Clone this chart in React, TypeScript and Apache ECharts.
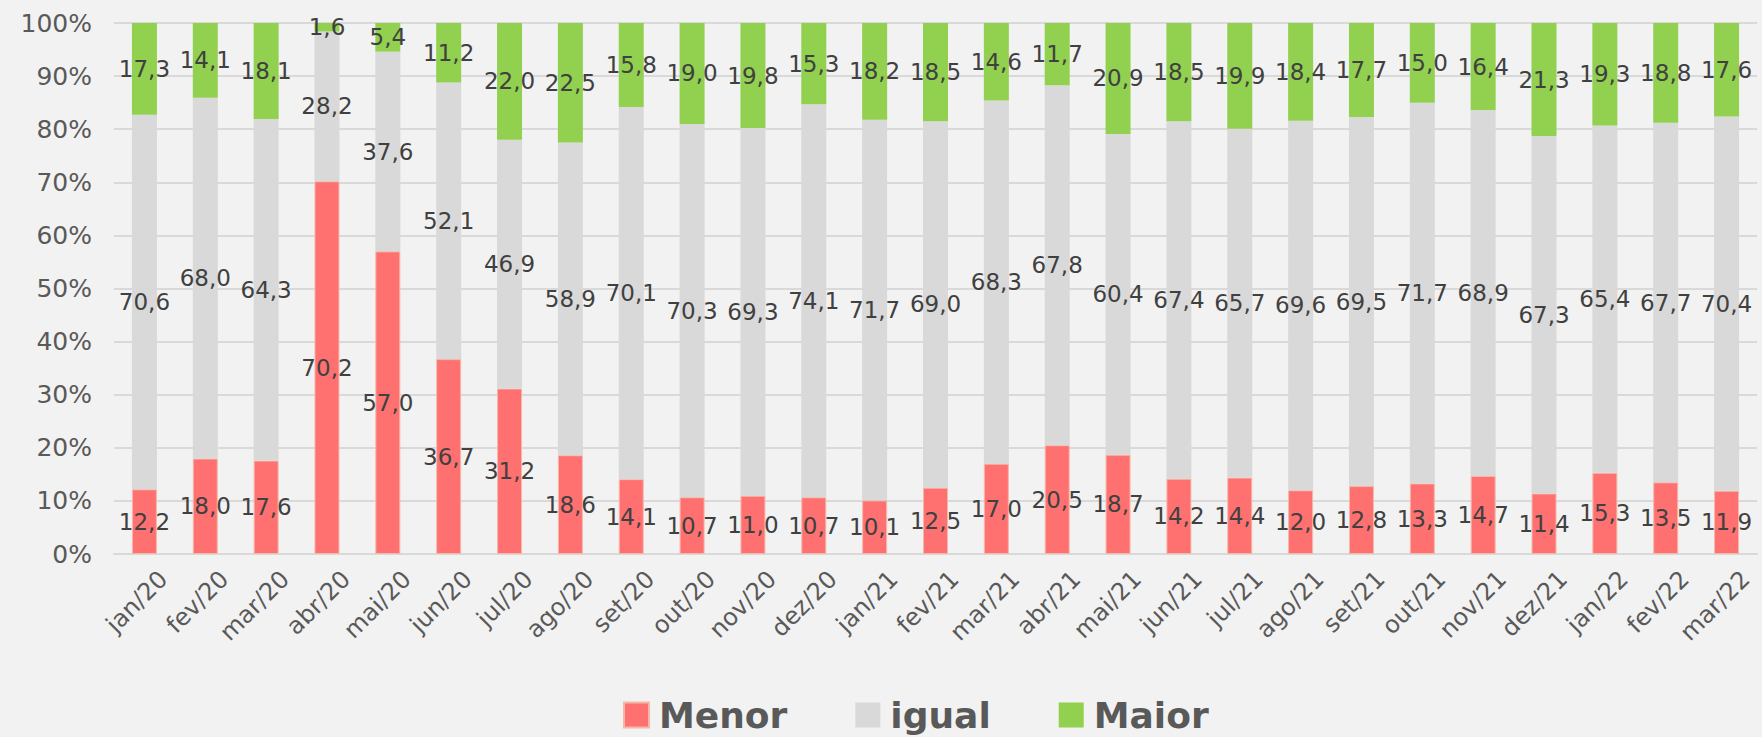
import React, { useEffect, useRef } from "react";
import * as echarts from "echarts";

const categories = [
  "jan/20", "fev/20", "mar/20", "abr/20", "mai/20", "jun/20", "jul/20", "ago/20", "set/20",
  "out/20", "nov/20", "dez/20", "jan/21", "fev/21", "mar/21", "abr/21", "mai/21", "jun/21",
  "jul/21", "ago/21", "set/21", "out/21", "nov/21", "dez/21", "jan/22", "fev/22", "mar/22",
];

const menor = [12.2, 18.0, 17.6, 70.2, 57.0, 36.7, 31.2, 18.6, 14.1, 10.7, 11.0, 10.7, 10.1, 12.5, 17.0, 20.5, 18.7, 14.2, 14.4, 12.0, 12.8, 13.3, 14.7, 11.4, 15.3, 13.5, 11.9];
const igual = [70.6, 68.0, 64.3, 28.2, 37.6, 52.1, 46.9, 58.9, 70.1, 70.3, 69.3, 74.1, 71.7, 69.0, 68.3, 67.8, 60.4, 67.4, 65.7, 69.6, 69.5, 71.7, 68.9, 67.3, 65.4, 67.7, 70.4];
const maior = [17.3, 14.1, 18.1, 1.6, 5.4, 11.2, 22.0, 22.5, 15.8, 19.0, 19.8, 15.3, 18.2, 18.5, 14.6, 11.7, 20.9, 18.5, 19.9, 18.4, 17.7, 15.0, 16.4, 21.3, 19.3, 18.8, 17.6];

const yTicks = [0, 10, 20, 30, 40, 50, 60, 70, 80, 90, 100];

const FONT = "'DejaVu Sans', sans-serif";

export default function App() {
  const ref = useRef<HTMLDivElement>(null);

  useEffect(() => {
    if (!ref.current) return;
    const chart = echarts.init(ref.current, null, { renderer: "svg" });

    const totals = categories.map((_, i) => menor[i] + igual[i] + maior[i]);
    const build = (arr: number[]) =>
      arr.map((v, i) => ({ value: (v / totals[i]) * 100, raw: v }));

    const labelCfg = {
      show: true,
      position: "inside",
      color: "#404040",
      fontSize: 23,
      fontFamily: FONT,
      formatter: (p: any) => p.data.raw.toFixed(1).replace(".", ","),
    };

    chart.setOption({
      animation: false,
      backgroundColor: "#F2F2F2",
      textStyle: { fontFamily: FONT },
      grid: { left: 114, right: 5, top: 23, bottom: 183, containLabel: false },
      legend: {
        left: 618,
        top: 692,
        itemWidth: 25,
        itemHeight: 25,
        itemGap: 68,
        icon: "rect",
        textStyle: { fontSize: 36, fontWeight: "bold", color: "#595959", fontFamily: FONT, padding: [0, 0, 0, 5] },
        data: ["Menor", "igual", "Maior"],
      },
      xAxis: {
        type: "category",
        data: categories,
        axisTick: { show: false },
        axisLine: { lineStyle: { color: "#D9D9D9", width: 2 } },
        axisLabel: {
          rotate: 45,
          margin: 2,
          fontSize: 24,
          color: "#595959",
          fontFamily: FONT,
          verticalAlign: "top",
          padding: [15, 0, 0, 0],
        },
      },
      yAxis: {
        type: "value",
        min: yTicks[0],
        max: yTicks[yTicks.length - 1],
        interval: yTicks[1] - yTicks[0],
        axisLine: { show: false },
        axisTick: { show: false },
        splitLine: { lineStyle: { color: "#D9D9D9", width: 2 } },
        axisLabel: {
          formatter: "{value}%",
          fontSize: 25,
          color: "#595959",
          margin: 22,
          fontFamily: FONT,
        },
      },
      series: [
        {
          name: "Menor",
          type: "bar",
          stack: "total",
          barWidth: 25,
          itemStyle: { color: "#FF7171", borderColor: "#F4B8A8", borderWidth: 1 },
          label: labelCfg,
          data: build(menor),
        },
        {
          name: "igual",
          type: "bar",
          stack: "total",
          barWidth: 25,
          itemStyle: { color: "#D9D9D9" },
          label: labelCfg,
          data: build(igual),
        },
        {
          name: "Maior",
          type: "bar",
          stack: "total",
          barWidth: 25,
          itemStyle: { color: "#92D050" },
          label: labelCfg,
          data: build(maior),
        },
      ],
    });

    return () => chart.dispose();
  }, []);

  return (
    <div
      ref={ref}
      style={{ position: "fixed", left: 0, top: 0, width: 1762, height: 737 }}
    />
  );
}
